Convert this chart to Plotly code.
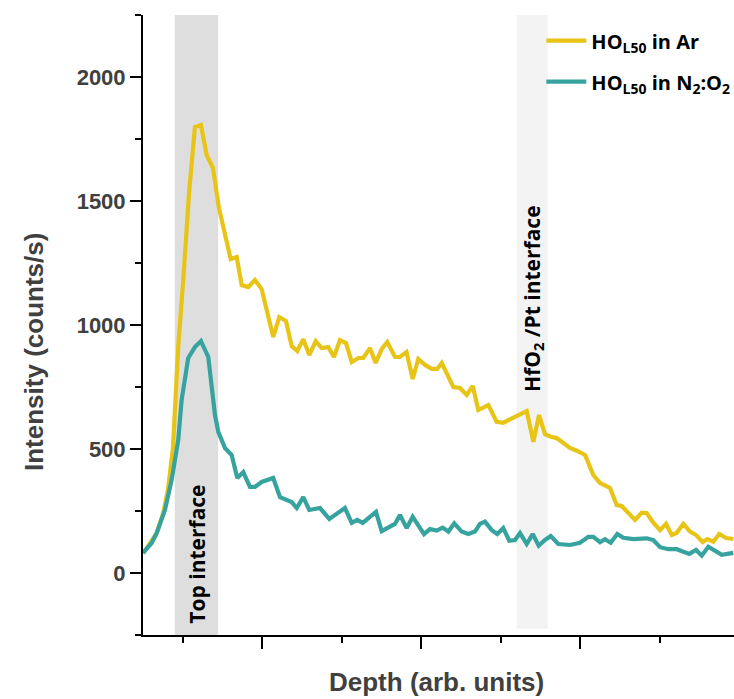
import plotly.graph_objects as go

# ---- data (depth in arbitrary units, intensity in counts/s) ----
depth_ar = [-4.97, -4.13, -3.28, -2.45, -1.86, -1.23, -0.77, -0.57, 0.06, 0.82, 1.53, 2.29, 3.01, 3.80,
            4.55, 5.31, 6.03, 6.78, 7.41, 8.24, 9.08, 9.92, 10.55, 11.38, 12.14, 12.98, 13.70, 14.40,
            15.16, 15.91, 16.72, 17.47, 18.30, 19.02, 19.77, 20.53, 21.25, 22.08, 22.70, 23.55, 24.26,
            25.02, 25.72, 26.69, 27.30, 28.14, 28.92, 29.62, 30.47, 31.31, 32.01, 32.57, 34.03, 34.87,
            35.71, 36.47, 37.17, 38.43, 39.48, 40.31, 41.79, 43.26, 44.09, 44.81, 45.56, 46.40, 47.03,
            47.86, 48.70, 49.55, 50.59, 51.64, 52.48, 53.74, 54.58, 55.21, 56.04, 56.88, 57.72, 58.35,
            59.18, 60.03, 60.78, 61.50, 62.13, 62.96, 63.80, 64.55, 65.40, 65.97, 66.73, 67.48, 68.33,
            69.25]
intensity_ar = [79, 121, 161, 242, 335, 508, 778, 912, 1181, 1544, 1798, 1806, 1685, 1633,
                1472, 1371, 1266, 1274, 1161, 1153, 1181, 1145, 1060, 952, 1032, 1016, 915, 895,
                943, 879, 935, 907, 911, 871, 939, 927, 851, 867, 867, 907, 847,
                903, 931, 871, 871, 891, 782, 863, 839, 823, 823, 847, 750, 746,
                718, 754, 657, 677, 610, 606, 630, 653, 529, 637, 560, 548, 544,
                524, 504, 493, 476, 395, 363, 343, 274, 270, 242, 214, 243, 242,
                203, 173, 198, 153, 162, 198, 167, 153, 125, 137, 126, 157, 141,
                137]

depth_n2o2 = [-5.0, -3.91, -3.28, -2.24, -1.40, -0.57, -0.14, 0.69, 1.53, 2.29, 3.21, 3.67, 4.05,
              4.47, 5.31, 6.15, 6.86, 7.61, 8.45, 9.08, 9.92, 11.38, 12.23, 13.70, 14.33, 15.16,
              15.91, 17.26, 18.43, 20.40, 21.25, 21.95, 22.63, 24.30, 25.02, 26.69, 27.32, 28.16,
              28.92, 30.34, 31.09, 31.94, 32.69, 33.40, 34.15, 35.08, 35.91, 36.75, 37.38, 38.01,
              38.86, 39.56, 40.31, 41.07, 41.79, 42.42, 43.26, 44.01, 44.77, 45.56, 46.28, 47.23,
              48.70, 49.96, 51.01, 51.64, 52.48, 53.11, 53.82, 54.65, 55.41, 56.67, 58.35, 59.18,
              60.03, 61.07, 62.13, 62.96, 63.71, 64.55, 65.27, 66.10, 66.94, 67.79, 69.25]
intensity_n2o2 = [81, 121, 161, 254, 375, 536, 698, 867, 911, 935, 871, 758, 637,
                  569, 504, 476, 383, 407, 347, 347, 367, 383, 306, 286, 262, 306,
                  254, 262, 218, 262, 202, 214, 202, 246, 169, 198, 234, 181,
                  226, 157, 177, 171, 183, 167, 200, 167, 157, 167, 198, 207,
                  173, 157, 181, 130, 133, 161, 117, 157, 110, 133, 149, 117,
                  113, 122, 146, 146, 124, 136, 122, 157, 142, 137, 140, 133,
                  104, 96, 96, 86, 77, 93, 70, 106, 89, 73, 81]

series_names = ["HO<sub>L50</sub> in Ar", "HO<sub>L50</sub> in N<sub>2</sub>:O<sub>2</sub>"]
series_colors = ["#E8C417", "#36A39E"]

top_interface = [-1.0, 4.45]
hfo2_interface = [42.0, 45.9]
band_labels = ["Top interface", "HfO<sub>2</sub> /Pt interface"]

x_range = [-5.0, 69.33]
y_range = [-250, 2250]

fig = go.Figure()
fig.add_trace(go.Scatter(x=depth_ar, y=intensity_ar, mode="lines", name=series_names[0],
                         legendgroup="ar",
                         line=dict(color=series_colors[0], width=4.2)))
fig.add_trace(go.Scatter(x=depth_n2o2, y=intensity_n2o2, mode="lines", name=series_names[1],
                         legendgroup="n2o2",
                         line=dict(color=series_colors[1], width=4.2)))

# shaded interface bands
fig.add_shape(type="rect", xref="x", yref="paper", x0=top_interface[0], x1=top_interface[1],
              y0=0, y1=1, fillcolor="#DEDEDE", line=dict(width=0), layer="below")
fig.add_shape(type="rect", xref="x", yref="y", x0=hfo2_interface[0], x1=hfo2_interface[1],
              y0=-225, y1=y_range[1], fillcolor="#F3F3F3", line=dict(width=0), layer="below")

fig.add_annotation(x=sum(top_interface) / 2 + 0.1, y=75, xref="x", yref="y", text=band_labels[0],
                   textangle=-90, showarrow=False,
                   font=dict(family="Open Sans", size=21, color="black", weight="bold"))
fig.add_annotation(x=sum(hfo2_interface) / 2 + 0.1, y=1105, xref="x", yref="y", text=band_labels[1],
                   textangle=-90, showarrow=False,
                   font=dict(family="Open Sans", size=21, color="black", weight="bold"))

# axis titles
title_font = dict(family="Liberation Sans, Arial", size=26, color="#404040", weight="bold")
fig.add_annotation(text="Intensity (counts/s)", xref="paper", yref="paper", x=-0.212, y=0.456,
                   textangle=-90, showarrow=False, font=title_font)
fig.add_annotation(text="Depth (arb. units)", xref="paper", yref="paper", x=0.496, y=-0.103,
                   showarrow=False, font=title_font)

fig.update_layout(
    width=734, height=699,
    margin=dict(l=143, r=0, t=15, b=64, autoexpand=False),
    paper_bgcolor="white", plot_bgcolor="white",
    showlegend=True,
    legend=dict(x=0.674, y=0.99, xanchor="left", yanchor="top", bgcolor="rgba(0,0,0,0)",
                font=dict(family="Open Sans", size=20, color="black", weight="bold"),
                itemwidth=40, tracegroupgap=12, traceorder="grouped"),
)
fig.update_xaxes(range=x_range, showgrid=False, zeroline=False, showline=True, linecolor="black",
                 linewidth=2, ticks="outside", tick0=10, dtick=20, ticklen=12, tickwidth=2,
                 tickcolor="black", showticklabels=False,
                 minor=dict(dtick=10, ticks="outside", ticklen=6, tickwidth=2, tickcolor="black"))
fig.update_yaxes(range=y_range, showgrid=False, zeroline=False, showline=True, linecolor="black",
                 linewidth=2, ticks="outside", tick0=0, dtick=500, ticklen=11, tickwidth=2,
                 tickcolor="black",
                 tickfont=dict(family="Liberation Sans, Arial", size=22, color="#404040", weight="bold"),
                 minor=dict(dtick=250, ticks="outside", ticklen=6, tickwidth=2, tickcolor="black"))

fig.write_html("out.html")
